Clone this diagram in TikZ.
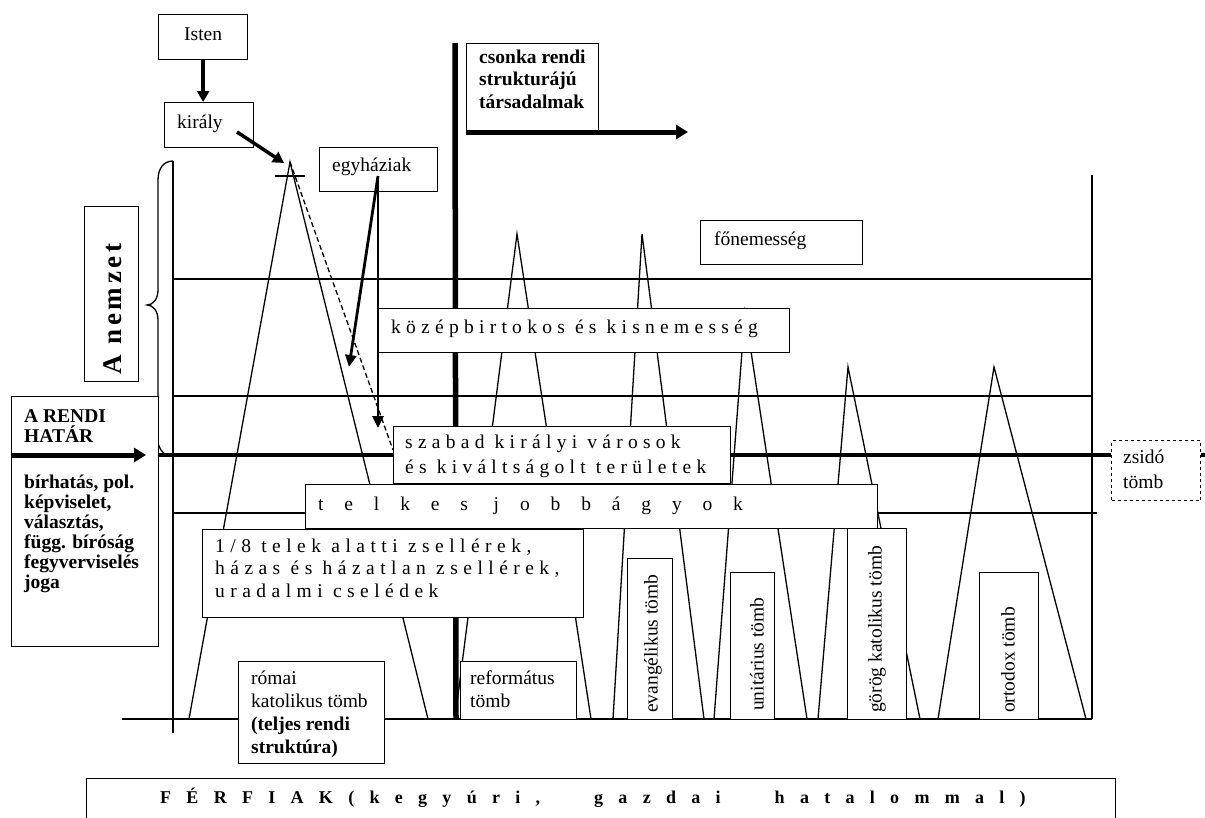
\documentclass[tikz,border=0pt]{standalone}
\usepackage{fontspec}
\setmainfont{Liberation Serif}
\usetikzlibrary{arrows.meta}
\newcommand\Lines[1]{\vtop{\halign{##\hfil\cr#1\crcr}}}
\newcommand\LS[2]{{\addfontfeature{LetterSpace=#1}#2}}
\newcommand\nf{\fontsize{19.5}{23}\selectfont}
\begin{document}
\begin{tikzpicture}[x=1pt,y=-1pt,
  ln/.style={line width=1.3pt},
  thickln/.style={line width=4.5pt},
  box/.style={draw,line width=1.3pt,fill=white,inner sep=0pt,anchor=north west},
  lbl/.style={anchor=base west,inner sep=0pt,font=\nf},
  vlbl/.style={anchor=west,inner sep=0pt,rotate=90,font=\nf},
  arrA/.style={line width=3.5pt,-{Triangle[length=11pt,width=12pt]}},
  arrB/.style={line width=2.8pt,-{Triangle[length=12pt,width=11pt]}},
  arrC/.style={line width=5pt,-{Triangle[length=12pt,width=14pt]}},
]
\useasboundingbox (0,0) rectangle (1205,817);
% coordinates
\coordinate (rcA) at (290,162); \coordinate (rcL) at (189,719); \coordinate (rcR) at (428,719);
\coordinate (rfA) at (517,234); \coordinate (rfL) at (455,719); \coordinate (rfR) at (591,719);
\coordinate (evA) at (642,234); \coordinate (evL) at (613,719); \coordinate (evR) at (704,719);
\coordinate (unA) at (745,312); \coordinate (unL) at (714,719); \coordinate (unR) at (807,719);
\coordinate (gkA) at (848,367); \coordinate (gkL) at (818,719); \coordinate (gkR) at (920,719);
\coordinate (orA) at (994,367); \coordinate (orL) at (938,719); \coordinate (orR) at (1086,719);
% frame lines
\draw[ln] (173,161) -- (173,733);
\draw[ln] (1092,175) -- (1092,719);
\draw[ln] (173,279) -- (1092,279);
\draw[ln] (173,396) -- (1092,396);
\draw[ln] (173,513) -- (305,513);
\draw[ln] (877,513) -- (1097,513);
\draw[ln] (122,719) -- (1092,719);
% brace
\draw[ln] (173,161) .. controls (164,161) and (158,168) .. (158,180) -- (158,290)
  .. controls (158,299) and (153,305) .. (147,305)
  .. controls (153,305) and (158,311) .. (158,320) -- (158,440)
  .. controls (158,448) and (162,452) .. (167,456);
% triangles
\draw[ln] (rcL) -- (rcA) -- (rcR);
\draw[ln] (275,176) -- (305,176);
\draw[ln] (rfL) -- (rfA) -- (rfR);
\draw[ln] (evL) -- (evA) -- (evR);
\draw[ln] (unL) -- (unA) -- (unR);
\draw[ln] (gkL) -- (gkA) -- (gkR);
\draw[ln] (orL) -- (orA) -- (orR);
\coordinate (dashend) at (393,450);
\draw[ln,dash pattern=on 5pt off 3pt] (rcA) -- (dashend);
% thick lines
\draw[thickln] (158,455) -- (1111,455);
\draw[thickln] (1200,455) -- (1206,455);
\draw[line width=5.5pt] (455,43) -- (456,719);
% boxes
\node[box,minimum width=89pt,minimum height=45pt] (isten) at (158,14) {};
\node[box,minimum width=89pt,minimum height=45pt] (kiraly) at (164,102) {};
\node[box,minimum width=118pt,minimum height=44pt] (egyhaz) at (319,147) {};
\node[box,minimum width=132pt,minimum height=87pt] (csonka) at (466,43) {};
\node[box,minimum width=162pt,minimum height=44pt] (fonemes) at (700,220) {};
\node[box,minimum width=411pt,minimum height=44pt] (kozep) at (378,308) {};
\node[box,minimum width=337pt,minimum height=57pt] (szabad) at (393,426) {};
\node[box,minimum width=572pt,minimum height=44pt] (telkes) at (305,484) {};
\node[box,minimum width=381pt,minimum height=88pt] (nyolcad) at (202,529) {};
\node[box,minimum width=146pt,minimum height=102pt] (romai) at (238,661) {};
\node[box,minimum width=116pt,minimum height=58pt] (reform) at (460,661) {};
\node[box,minimum width=45pt,minimum height=161pt] (evang) at (627,558) {};
\node[box,minimum width=44pt,minimum height=147pt] (unit) at (730,572) {};
\node[box,minimum width=59pt,minimum height=191pt] (gorog) at (847,528) {};
\node[box,minimum width=59pt,minimum height=147pt] (ortodox) at (979,572) {};
\node[box,dashed,minimum width=89pt,minimum height=60pt] (zsido) at (1111,440) {};
\node[box,minimum width=147pt,minimum height=250pt] (rendi) at (11,396) {};
\node[box,minimum width=54pt,minimum height=175pt] (nemzet) at (84,206) {};
\node[box,minimum width=1029pt,minimum height=60pt] (ferfi) at (86,778) {};
% arrows
\draw[arrA] (isten.south) -- (isten.south |- kiraly.north);
\coordinate (kirfoot) at (237,132); \coordinate (kirtip) at (284,163);
\draw[arrA] (kirfoot) -- (kirtip);
\coordinate (egyfoot) at (378,176); \coordinate (egytipA) at (378,428); \coordinate (egytipB) at (349,367);
\draw[arrB] (egyfoot) -- (egytipA);
\draw[arrB] (egyfoot) -- (egytipB);
\coordinate (csfoot) at (466,132); \coordinate (cstip) at (688,132);
\draw[arrC] (csfoot) -- (cstip);
\coordinate (rhfoot) at (11,455); \coordinate (rhtip) at (146,455);
\draw[arrC] (rhfoot) -- (rhtip);
% texts
\node[lbl] (istenT) at (184,40) {Isten};
\node[lbl] (kiralyT) at (177,128) {király};
\node[lbl] (egyT) at (332,171) {egyháziak};
\node[lbl,font=\fontsize{19.5}{22.5}\selectfont\bfseries] (csonkaT) at (479,63) {\Lines{csonka rendi\cr strukturájú\cr társadalmak}};
\node[lbl] (fonT) at (714,245) {főnemesség};
\node[lbl] (kozepT) at (391,333) {\LS{27}{középbirtokos és kisnemesség}};
\node[lbl,font=\fontsize{19.5}{25}\selectfont] (szabadT) at (405,448) {\LS{27}{\Lines{szabad királyi városok\cr és kiváltságolt területek}}};
\node[lbl] (telkesT) at (318,510) {\LS{107}{telkes jobbágyok}};
\node[lbl,font=\fontsize{19.5}{22.5}\selectfont] (nyolcT) at (215,552) {\LS{28}{\Lines{1/8 telek alatti zsellérek,\cr házas és házatlan zsellérek,\cr uradalmi cselédek}}};
\node[lbl] (romaiT) at (251,684) {\Lines{római\cr katolikus tömb\cr \textbf{(teljes rendi}\cr \textbf{struktúra)}}};
\node[lbl] (reformT) at (470,684) {\Lines{református\cr tömb}};
\node[lbl,font=\fontsize{19.5}{25}\selectfont] (zsidoT) at (1123,463) {\Lines{zsidó\cr tömb}};
\node[lbl,font=\fontsize{19.5}{20}\selectfont\bfseries] (rendiT) at (24,422) {\Lines{A RENDI\cr HATÁR}};
\node[lbl,font=\fontsize{19.5}{20}\selectfont\bfseries] (jogT) at (24,488) {\Lines{bírhatás, pol.\cr képviselet,\cr választás,\cr függ. bíróság\cr fegyverviselés\cr joga}};
\node[vlbl] (evangT) at (653,713) {evangélikus tömb};
\node[vlbl] (unitT) at (757,711) {unitárius tömb};
\node[vlbl] (gorogT) at (877,713) {görög katolikus tömb};
\node[vlbl] (ortT) at (1008,713) {ortodox tömb};
\node[vlbl,font=\fontsize{27}{30}\selectfont\bfseries] (nemzetT) at (113,375) {\LS{14}{A nemzet}};
\node[anchor=base west,inner sep=0pt,font=\fontsize{18}{22}\selectfont\bfseries] (ferfiT) at (160,803) {\LS{85}{FÉRFIAK}\LS{85}{(kegyúri,}\hspace{54pt}\LS{85}{gazdai}\hspace{54pt}\LS{85}{hatalommal)}};
\end{tikzpicture}
\end{document}
